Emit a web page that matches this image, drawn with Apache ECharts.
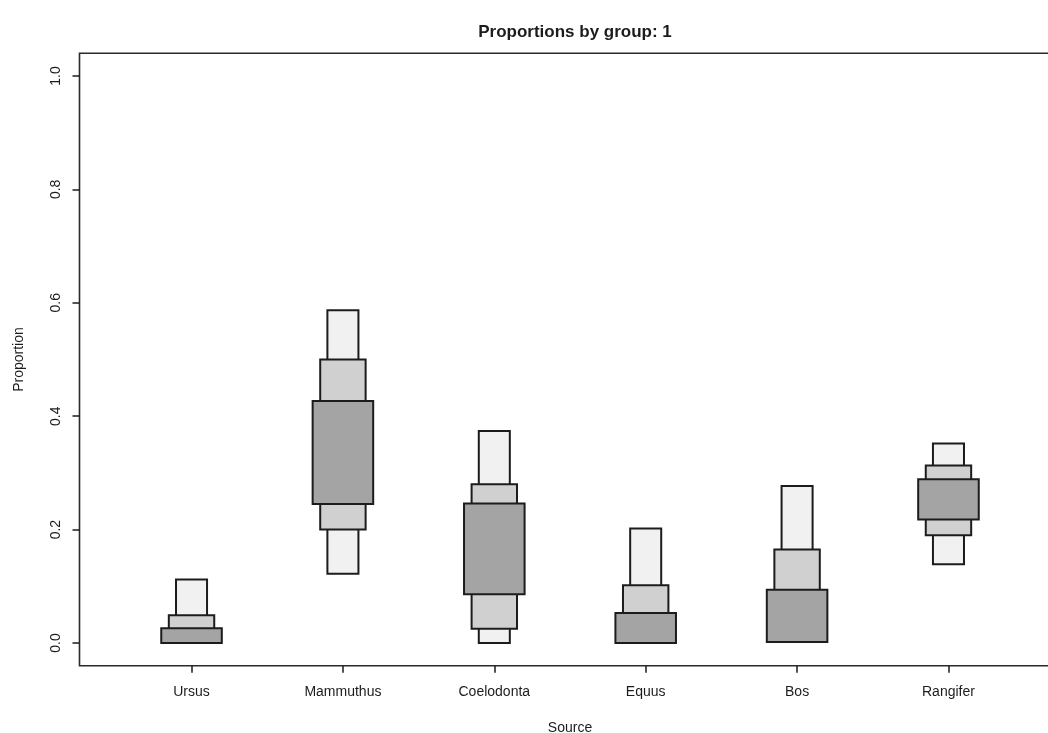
<!DOCTYPE html>
<html>
<head>
<meta charset="utf-8">
<title>Proportions by group: 1</title>
<script src="https://cdn.jsdelivr.net/npm/echarts@6/dist/echarts.min.js"></script>
<style>
  html, body { margin: 0; padding: 0; background: #ffffff; }
  #chart { width: 1048px; height: 733px; }
</style>
</head>
<body>
<div id="chart"></div>
<script>
// Sources and their credible intervals of dietary proportion
const categories = ['Ursus', 'Mammuthus', 'Coelodonta', 'Equus', 'Bos', 'Rangifer'];

// 95% interval
const lo95 = [0.000, 0.122, 0.000, 0.000, 0.002, 0.139];
const hi95 = [0.112, 0.587, 0.374, 0.202, 0.277, 0.352];
// 75% interval
const lo75 = [0.000, 0.200, 0.025, 0.000, 0.002, 0.190];
const hi75 = [0.049, 0.500, 0.280, 0.102, 0.165, 0.313];
// 50% interval
const lo50 = [0.000, 0.245, 0.086, 0.000, 0.002, 0.218];
const hi50 = [0.026, 0.427, 0.246, 0.053, 0.094, 0.289];

const yTicks = [0, 0.2, 0.4, 0.6, 0.8, 1.0];
const xTicks = categories.map((c, i) => i + 1);

const FONT = '"Liberation Sans", Arial, Helvetica, sans-serif';
const INK = '#1c1c1c';

function intervalSeries(name, lo, hi, boxWidth, fill) {
  return {
    name: name,
    type: 'custom',
    data: categories.map((c, i) => [i + 1, lo[i], hi[i]]),
    encode: { x: 0, y: [1, 2] },
    renderItem: function (params, api) {
      const x = api.value(0);
      const p0 = api.coord([x - boxWidth / 2, api.value(1)]);
      const p1 = api.coord([x + boxWidth / 2, api.value(2)]);
      return {
        type: 'rect',
        shape: { x: p0[0], y: p1[1], width: p1[0] - p0[0], height: p0[1] - p1[1] },
        style: { fill: fill, stroke: INK, lineWidth: 2 }
      };
    },
    silent: true,
    animation: false
  };
}

const chart = echarts.init(document.getElementById('chart'), null, { renderer: 'canvas' });
chart.setOption({
  backgroundColor: '#ffffff',
  animation: false,
  title: {
    text: 'Proportions by group: 1',
    left: 570,
    top: 19,
    textAlign: 'center',
    textStyle: { fontFamily: FONT, fontSize: 17, fontWeight: 'bold', color: INK }
  },
  grid: {
    left: 79.5,
    top: 53.3,
    right: -12.5,
    bottom: 67.3,
    outerBoundsMode: 'none',
    containLabel: false,
    show: true,
    borderColor: '#2a2a2a',
    borderWidth: 1.6,
    backgroundColor: 'transparent'
  },
  xAxis: {
    type: 'value',
    min: 0.26,
    max: 6.74,
    name: 'Source',
    nameLocation: 'middle',
    nameGap: 55,
    nameTextStyle: { fontFamily: FONT, fontSize: 14, color: INK },
    axisLine: { show: false, onZero: false },
    splitLine: { show: false },
    axisTick: { show: true, customValues: xTicks, length: 7, lineStyle: { color: INK, width: 1.5 } },
    axisLabel: {
      customValues: xTicks,
      margin: 19,
      formatter: v => categories[Math.round(v) - 1],
      fontFamily: FONT, fontSize: 14, color: INK
    }
  },
  yAxis: {
    type: 'value',
    min: -0.04,
    max: 1.04,
    name: 'Proportion',
    nameLocation: 'middle',
    nameRotate: 90,
    nameGap: 53,
    nameTextStyle: { fontFamily: FONT, fontSize: 14, color: INK },
    axisLine: { show: false, onZero: false },
    splitLine: { show: false },
    axisTick: { show: true, customValues: yTicks, length: 7, lineStyle: { color: INK, width: 1.5 } },
    axisLabel: {
      customValues: yTicks,
      rotate: 90,
      margin: 16,
      formatter: v => v.toFixed(1),
      fontFamily: FONT, fontSize: 14, color: INK
    }
  },
  series: [
    intervalSeries('95%', lo95, hi95, 0.205, '#f1f1f1'),
    intervalSeries('75%', lo75, hi75, 0.30, '#d0d0d0'),
    intervalSeries('50%', lo50, hi50, 0.40, '#a4a4a4')
  ]
});
</script>
</body>
</html>
